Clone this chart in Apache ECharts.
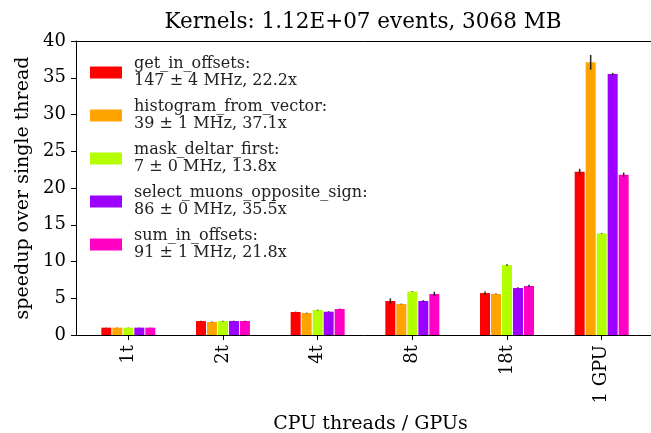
<!DOCTYPE html>
<html>
<head>
<meta charset="utf-8">
<script src="https://cdn.jsdelivr.net/npm/echarts@6/dist/echarts.min.js"></script>
<style>
  html, body { margin: 0; padding: 0; background: #fff; }
  .box { width: 651px; height: 433px; }
</style>
</head>
<body>
<div class="box"></div>
<script>
// categories on the x axis
var categories = ["1t", "2t", "4t", "8t", "18t", "1 GPU"];
var kernels = ["get_in_offsets", "histogram_from_vector", "mask_deltar_first", "select_muons_opposite_sign", "sum_in_offsets"];

// speedup per kernel (one value per category)
var getInOffsets = [1.0, 1.9, 3.13, 4.63, 5.71, 22.2];
var histogramFromVector = [1.0, 1.77, 2.99, 4.22, 5.58, 37.1];
var maskDeltarFirst = [1.0, 1.9, 3.4, 5.9, 9.52, 13.8];
var selectMuonsOppositeSign = [1.0, 1.9, 3.17, 4.63, 6.39, 35.5];
var sumInOffsets = [1.0, 1.9, 3.54, 5.58, 6.67, 21.8];

// error bars (half-length)
var getInOffsetsErr = [0.02, 0.05, 0.05, 0.35, 0.2, 0.4];
var histogramFromVectorErr = [0.02, 0.05, 0.05, 0.05, 0.05, 1.0];
var maskDeltarFirstErr = [0.02, 0.05, 0.05, 0.05, 0.1, 0.05];
var selectMuonsOppositeSignErr = [0.02, 0.05, 0.05, 0.1, 0.1, 0.15];
var sumInOffsetsErr = [0.02, 0.05, 0.05, 0.3, 0.15, 0.3];

// legend rates
var rates = [147, 39, 7, 86, 91];
var rateErrs = [4, 1, 0, 0, 1];

var yTicks = [0, 5, 10, 15, 20, 25, 30, 35, 40];

(function () {
    var myChart = echarts.init(document.querySelector(".box"));

    var values = [getInOffsets, histogramFromVector, maskDeltarFirst, selectMuonsOppositeSign, sumInOffsets];
    var errors = [getInOffsetsErr, histogramFromVectorErr, maskDeltarFirstErr, selectMuonsOppositeSignErr, sumInOffsetsErr];
    var colors = ["#ff0000", "#ffa300", "#b4ff00", "#9c00ff", "#ff00c4"];
    var font = "DejaVu Serif";
    var barW = 10, step = 11;

    function getGpu(i) { return values[i][categories.indexOf("1 GPU")]; }

    var series = [];
    kernels.forEach(function (k, i) {
        series.push({
            name: k,
            type: "bar",
            xAxisIndex: 1,
            yAxisIndex: 1,
            barWidth: barW,
            barGap: "10%",
            itemStyle: { color: colors[i] },
            data: values[i]
        });
    });
    kernels.forEach(function (k, i) {
        series.push({
            type: "custom",
            xAxisIndex: 1,
            yAxisIndex: 1,
            z: 5,
            silent: true,
            data: values[i].map(function (v, j) { return [j, v, errors[i][j]]; }),
            renderItem: function (params, api) {
                var c = api.coord([api.value(0), api.value(1)]);
                var h = api.size([0, api.value(2)])[1];
                var x = c[0] + (i - 2) * step;
                return {
                    type: "line",
                    shape: { x1: x, y1: c[1] - h, x2: x, y2: c[1] + h },
                    style: { stroke: "#222", lineWidth: 1.5 }
                };
            }
        });
    });

    var option = {
        animation: false,
        backgroundColor: "#fff",
        color: colors,
        title: {
            text: "Kernels: 1.12E+07 events, 3068 MB",
            left: 363,
            textAlign: "center",
            top: 11,
            padding: 0,
            textStyle: { fontFamily: font, fontSize: 21.5, fontWeight: "normal", color: "#000" }
        },
        legend: {
            orient: "vertical",
            left: 90,
            top: 55,
            padding: 0,
            itemWidth: 32,
            itemHeight: 12,
            itemGap: 8,
            icon: "rect",
            data: kernels,
            formatter: function (name) {
                var i = kernels.indexOf(name);
                return name + ":\n" + rates[i] + " \u00b1 " + rateErrs[i] + " MHz, " + getGpu(i).toFixed(1) + "x";
            },
            textStyle: { fontFamily: font, fontSize: 16, lineHeight: 17.5, color: "#222", padding: [0, 0, 0, 7] }
        },
        grid: [
            { left: 76, right: -6, top: 41, bottom: 98, outerBoundsMode: "none" },
            { left: 81, width: 568, top: 41, bottom: 98, outerBoundsMode: "none" }
        ],
        xAxis: [
            {
                type: "value", gridIndex: 0, min: 0, max: 1,
                axisLine: { show: true, onZero: false, lineStyle: { color: "#000", width: 1 } },
                axisTick: { show: false }, axisLabel: { show: false }, splitLine: { show: false },
                name: "CPU threads / GPUs",
                nameLocation: "middle",
                nameGap: 80,
                nameTextStyle: { fontFamily: font, fontSize: 19, color: "#000", padding: [0, 0, 0, 8] }
            },
            {
                type: "category", gridIndex: 1, data: categories,
                axisLine: { show: false },
                axisTick: { show: true, alignWithLabel: true, length: 5, lineStyle: { color: "#000" } },
                axisLabel: { rotate: 90, fontFamily: font, fontSize: 18, color: "#000", margin: 10 }
            },
            {
                type: "value", gridIndex: 0, position: "top", min: 0, max: 1,
                axisLine: { show: true, onZero: false, lineStyle: { color: "#000", width: 1 } },
                axisTick: { show: false }, axisLabel: { show: false }, splitLine: { show: false }
            }
        ],
        yAxis: [
            {
                type: "value", gridIndex: 0, min: 0, max: 40, interval: 5,
                axisLine: { show: true, lineStyle: { color: "#000", width: 1 } },
                axisTick: { show: true, length: 5, lineStyle: { color: "#000" } },
                axisLabel: {
                    fontFamily: font, fontSize: 18, color: "#000", margin: 10,
                    formatter: function (v) { return yTicks.indexOf(v) >= 0 ? String(v) : ""; }
                },
                splitLine: { show: false },
                name: "speedup over single thread",
                nameLocation: "middle",
                nameGap: 39,
                nameTextStyle: { fontFamily: font, fontSize: 19, color: "#000" }
            },
            {
                type: "value", gridIndex: 1, min: 0, max: 40,
                show: false, splitLine: { show: false }
            }
        ],
        series: series
    };

    myChart.setOption(option);
    window.addEventListener("resize", function () { myChart.resize(); });
})();
</script>
</body>
</html>
